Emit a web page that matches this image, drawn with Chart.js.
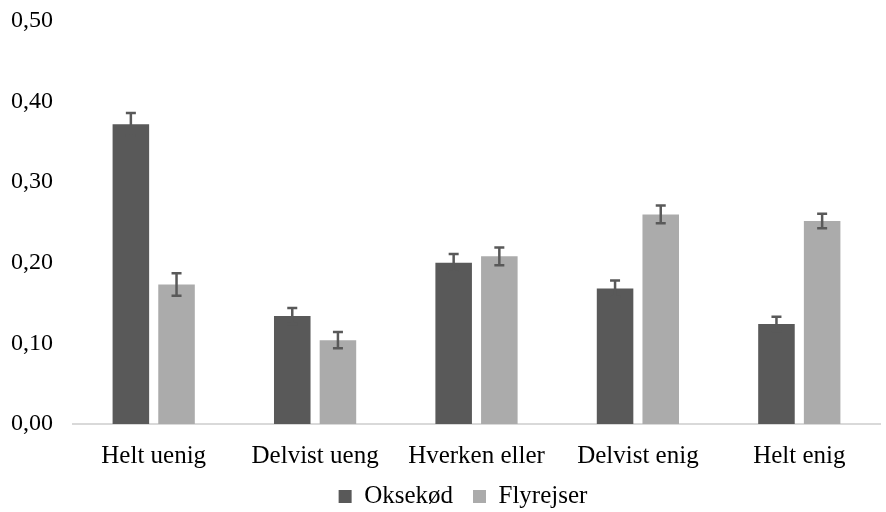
<!DOCTYPE html>
<html>
<head>
<meta charset="utf-8">
<script src="https://cdn.jsdelivr.net/npm/chart.js@4/dist/chart.umd.min.js"></script>
<style>
html,body{margin:0;padding:0;background:#fff;}
#wrap{width:886px;height:512px;}
</style>
</head>
<body>
<div id="wrap"><canvas id="c" width="886" height="512"></canvas></div>
<script>
const categories = ["Helt uenig", "Delvist ueng", "Hverken eller", "Delvist enig", "Helt enig"];
const oksekod = [0.372, 0.134, 0.200, 0.168, 0.124];
const oksekodErr = [0.014, 0.010, 0.011, 0.010, 0.009];
const flyrejser = [0.173, 0.104, 0.208, 0.260, 0.252];
const flyrejserErr = [0.014, 0.010, 0.011, 0.011, 0.009];
const seriesNames = ["Oksekød", "Flyrejser"];
const yTicks = [0, 0.1, 0.2, 0.3, 0.4, 0.5];

const errors = [oksekodErr, flyrejserErr];

const errorBarPlugin = {
  id: 'errorBars',
  afterDatasetsDraw(chart) {
    const ctx = chart.ctx;
    const y = chart.scales.y;
    ctx.save();
    ctx.strokeStyle = '#595959';
    ctx.lineWidth = 2.5;
    chart.data.datasets.forEach((ds, di) => {
      const meta = chart.getDatasetMeta(di);
      meta.data.forEach((bar, i) => {
        const v = ds.data[i];
        const e = errors[di][i];
        const yt = y.getPixelForValue(v + e);
        const yb = y.getPixelForValue(v - e);
        const x = bar.x;
        const cap = 5;
        ctx.beginPath();
        ctx.moveTo(x, yt); ctx.lineTo(x, yb);
        ctx.moveTo(x - cap, yt); ctx.lineTo(x + cap, yt);
        ctx.moveTo(x - cap, yb); ctx.lineTo(x + cap, yb);
        ctx.stroke();
      });
    });
    ctx.restore();
  }
};

const legendShift = {
  id: 'legendShift',
  afterLayout(chart) {
    const lg = chart.legend;
    if (!lg) return;
    const target = 463;
    const cur = (lg.left + lg.right) / 2;
    const d = target - cur;
    lg.left += d; lg.right += d;
    lg.top -= 9; lg.bottom -= 9;
  }
};

const FAM = '"Liberation Serif", "Times New Roman", serif';
Chart.defaults.font.family = FAM;

new Chart(document.getElementById('c'), {
  type: 'bar',
  data: {
    labels: categories,
    datasets: [
      {label: seriesNames[0], data: oksekod, backgroundColor: '#595959', borderWidth: 0},
      {label: seriesNames[1], data: flyrejser, backgroundColor: '#ababab', borderWidth: 0}
    ]
  },
  options: {
    responsive: false,
    animation: false,
    devicePixelRatio: 1,
    layout: {padding: {left: -9, right: 6, top: 21, bottom: -16}},
    datasets: {bar: {categoryPercentage: 0.566, barPercentage: 0.8}},
    plugins: {
      legend: {
        position: 'bottom',
        labels: {font: {family: FAM, size: 25}, color: '#000', boxWidth: 13, boxHeight: 13, padding: 20}
      },
      tooltip: {enabled: false}
    },
    scales: {
      x: {
        grid: {display: false, drawTicks: false},
        border: {display: true, color: '#d9d9d9', width: 2},
        ticks: {font: {family: FAM, size: 25}, color: '#000', padding: 17},
        afterFit(axis) { axis.height = 49; }
      },
      y: {
        min: 0, max: 0.5,
        afterBuildTicks(axis) { axis.ticks = yTicks.map(v => ({value: v})); },
        afterFit(axis) { axis.paddingTop = 0; },
        grid: {display: false, drawTicks: false},
        border: {display: false},
        ticks: {font: {family: FAM, size: 24}, color: '#000', padding: 20,
          callback: v => v.toFixed(2).replace('.', ',')}
      }
    }
  },
  plugins: [errorBarPlugin, legendShift]
});
</script>
</body>
</html>
